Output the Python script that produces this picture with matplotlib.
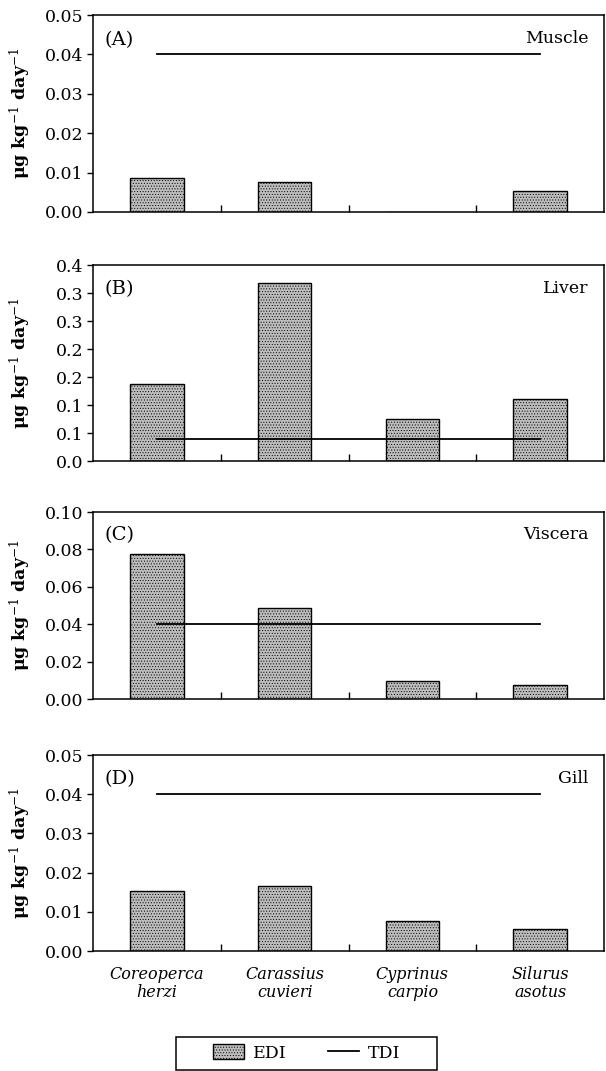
import matplotlib
matplotlib.use("Agg")
import matplotlib.pyplot as plt
import matplotlib.patches as mpatches
from matplotlib.lines import Line2D
import numpy as np

plt.rcParams['font.family'] = ['DejaVu Serif']
plt.rcParams['mathtext.fontset'] = 'dejavuserif'
plt.rcParams['hatch.linewidth'] = 0.4

species = ['Coreoperca\nherzi', 'Carassius\ncuvieri', 'Cyprinus\ncarpio', 'Silurus\nasotus']
tissues = ['Muscle', 'Liver', 'Viscera', 'Gill']
panel_tags = ['(A)', '(B)', '(C)', '(D)']

edi_muscle = [0.0086, 0.0076, 0.0, 0.0053]
edi_liver = [0.138, 0.318, 0.075, 0.111]
edi_viscera = [0.0773, 0.0485, 0.0096, 0.0075]
edi_gill = [0.0153, 0.0165, 0.0076, 0.0056]
tdi = [0.04, 0.04, 0.04, 0.04]

ticks_a = [0.0, 0.01, 0.02, 0.03, 0.04, 0.05]
labels_a = ['0.00', '0.01', '0.02', '0.03', '0.04', '0.05']
ticks_b = [0.0, 0.05, 0.10, 0.15, 0.20, 0.25, 0.30, 0.35]
labels_b = ['0.0', '0.1', '0.1', '0.2', '0.2', '0.3', '0.3', '0.4']
ticks_c = [0.0, 0.02, 0.04, 0.06, 0.08, 0.10]
labels_c = ['0.00', '0.02', '0.04', '0.06', '0.08', '0.10']

edi_all = [edi_muscle, edi_liver, edi_viscera, edi_gill]
ticks_all = [ticks_a, ticks_b, ticks_c, ticks_a]
labels_all = [labels_a, labels_b, labels_c, labels_a]

W, H = 606, 1071
fig = plt.figure(figsize=(W / 100, H / 100), dpi=100)

# axes boxes in pixels (top, bottom)
boxes = [(15, 212), (265, 461), (512, 699), (755, 951)]
x_left, x_right = 93, 604

bar_color = '#bdbdbd'
x = np.arange(len(species))

for i, (top, bot) in enumerate(boxes):
    ax = fig.add_axes([x_left / W, 1 - bot / H, (x_right - x_left) / W, (bot - top) / H])
    ax.bar(x, edi_all[i], width=0.42, color=bar_color, edgecolor='black',
           linewidth=1.0, hatch='......', zorder=2)
    ax.plot(x, tdi, color='black', linewidth=1.3, zorder=3)
    ax.set_xlim(-0.5, 3.5)
    ax.set_ylim(ticks_all[i][0], ticks_all[i][-1])
    ax.set_yticks(ticks_all[i])
    ax.set_yticklabels(labels_all[i])
    ax.tick_params(axis='y', direction='out', length=4, width=1, labelsize=12.5, pad=3)
    ax.set_xticks(x)
    ax.set_xticks([0.5, 1.5, 2.5], minor=True)
    ax.tick_params(axis='x', which='major', length=0, pad=11)
    ax.tick_params(axis='x', which='minor', direction='in', length=5, width=1)
    if i == 3:
        ax.set_xticklabels(species, fontstyle='italic', fontsize=11.5, linespacing=1.05)
    else:
        ax.set_xticklabels([])
    for s in ax.spines.values():
        s.set_linewidth(1.1)
    ax.set_ylabel(r'$\mathbf{\mu}$g kg$^{-1}$ day$^{-1}$', fontsize=12.5, fontweight='bold')
    ax.yaxis.set_label_coords(-0.118, 0.5)
    ax.text(0.023, 0.875, panel_tags[i], transform=ax.transAxes, fontsize=14,
            ha='left', va='center')
    ax.text(0.97, 0.88, tissues[i], transform=ax.transAxes, fontsize=12.5,
            ha='right', va='center')

# legend
h_edi = mpatches.Patch(facecolor=bar_color, edgecolor='black', linewidth=1.0, hatch='......')
h_tdi = Line2D([0], [0], color='black', linewidth=1.3)
fig.legend([h_edi, h_tdi], ['EDI', 'TDI'], loc='center', bbox_to_anchor=(0.506, 1 - 1053 / H),
           ncol=2, frameon=False, fontsize=12.5, handlelength=1.8, handleheight=0.9,
           columnspacing=2.4, handletextpad=0.5)
fig.patches.append(mpatches.Rectangle((176 / W, 1 / H), 261 / W, 33 / H, transform=fig.transFigure,
                                      fill=False, edgecolor='black', linewidth=1.1))

fig.savefig('out.png', dpi=100)
